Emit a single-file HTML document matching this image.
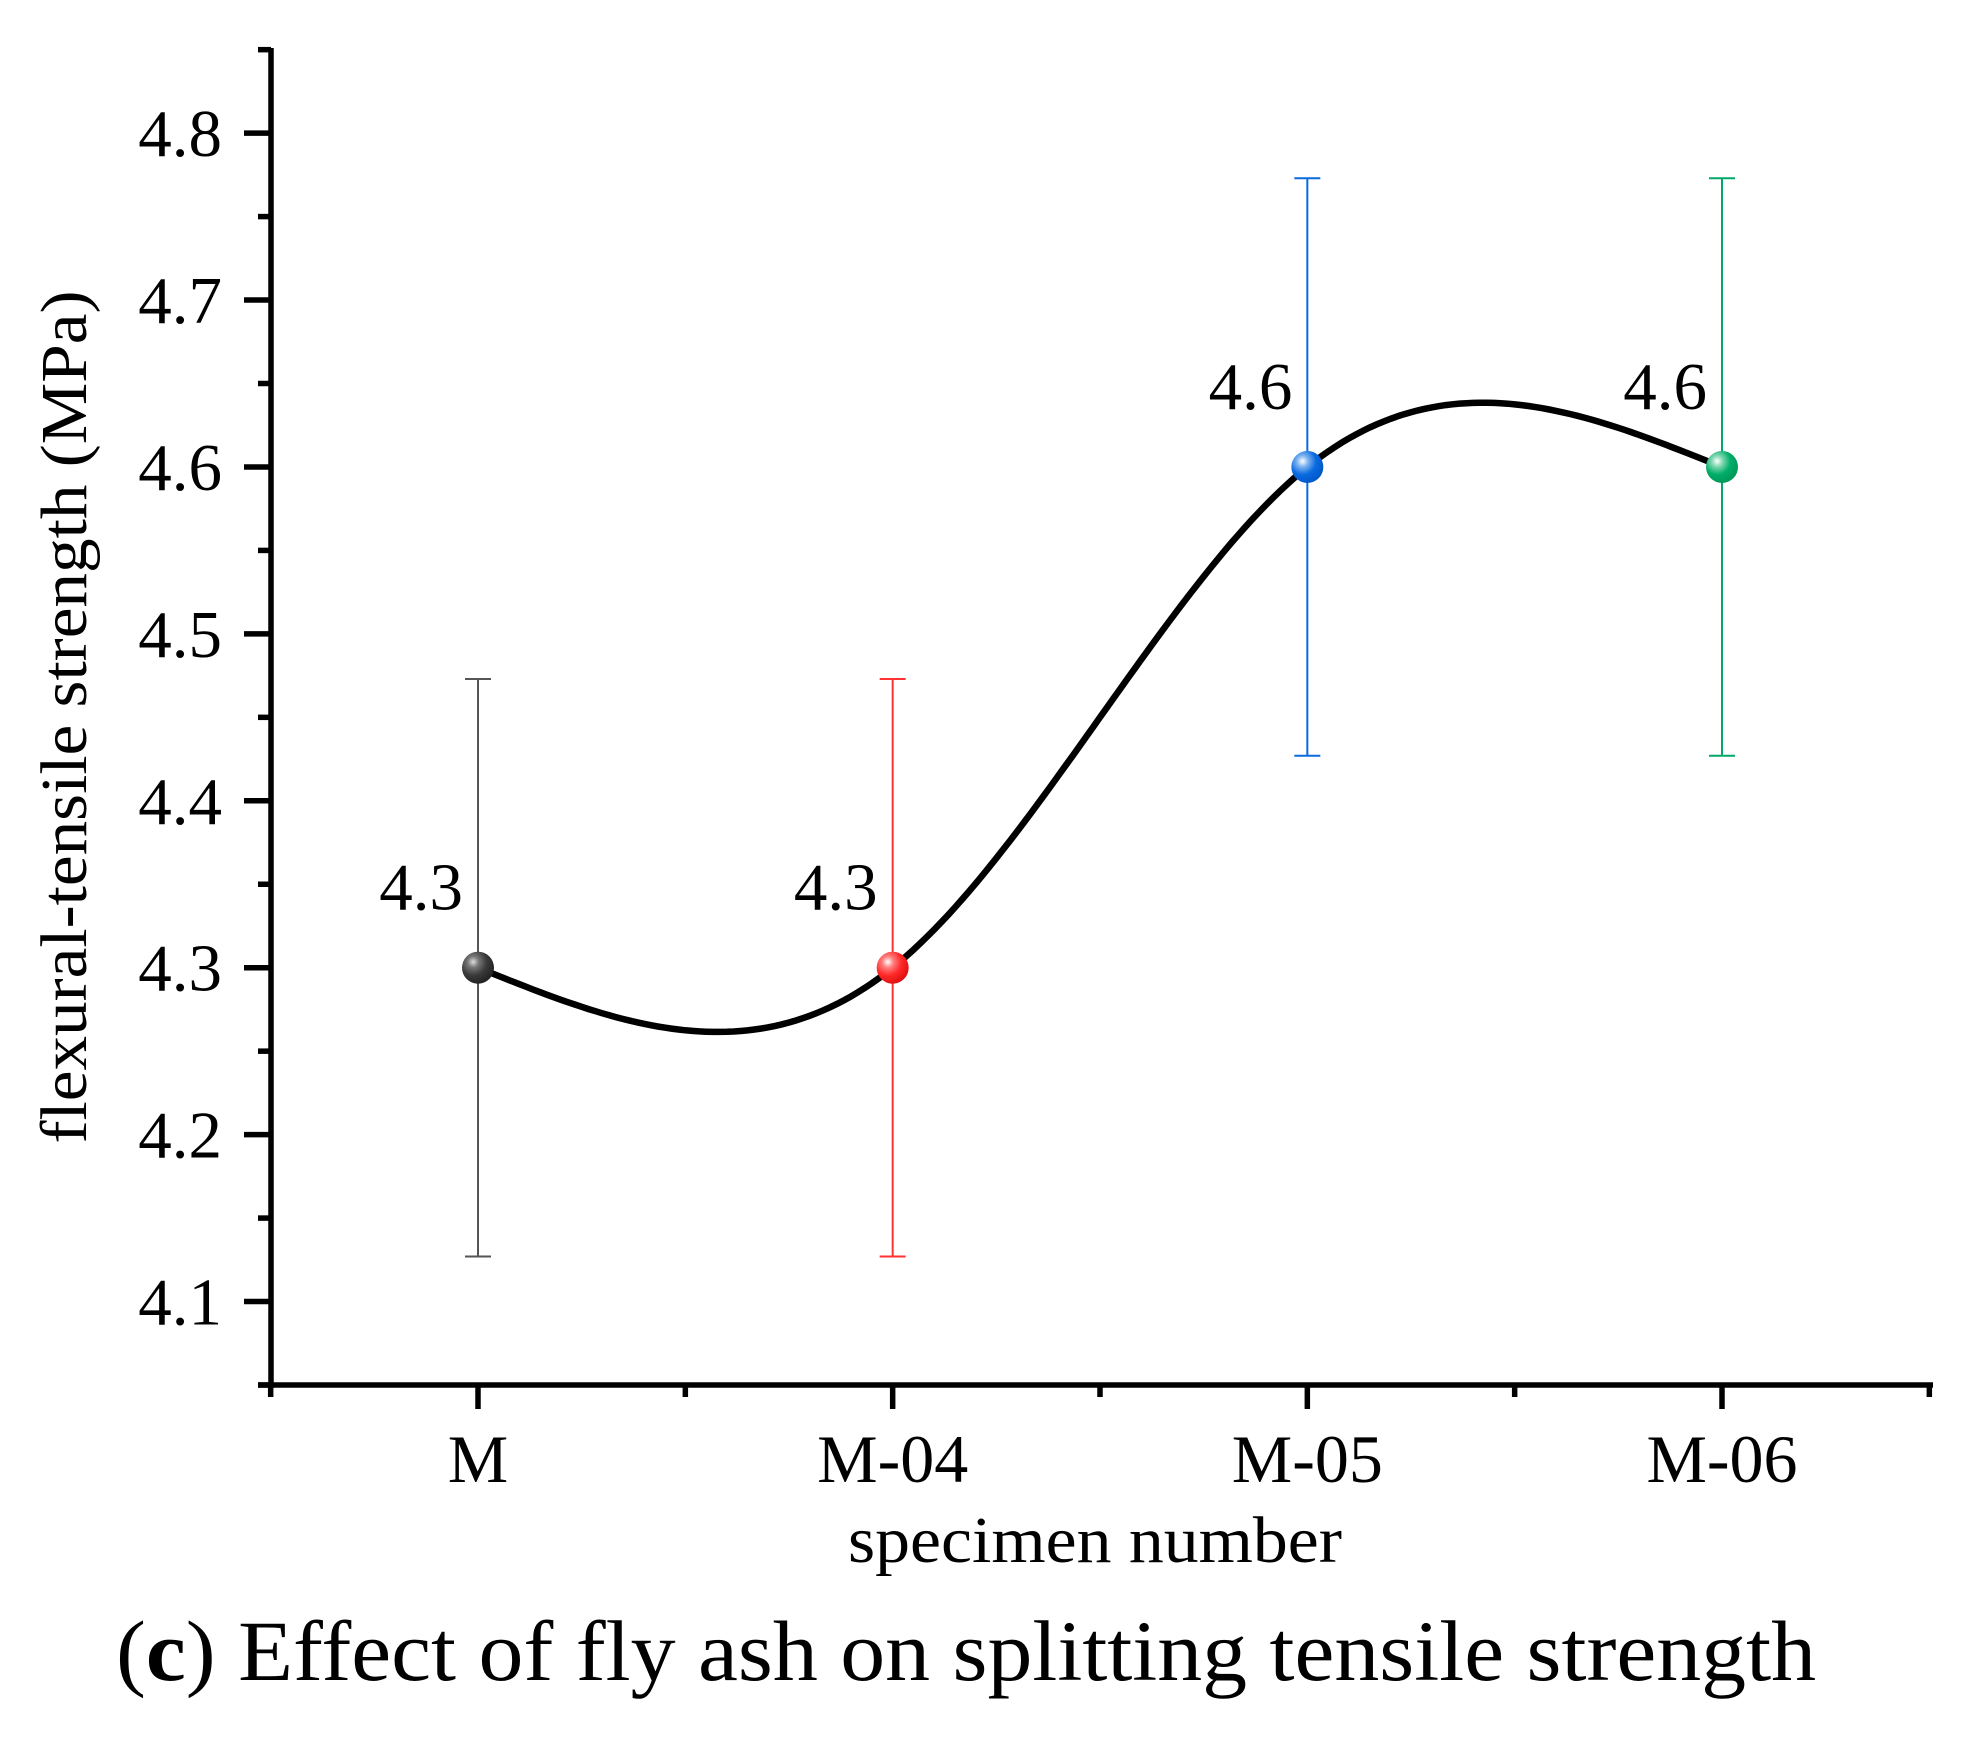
<!DOCTYPE html>
<html><head><meta charset="utf-8"><style>
html,body{margin:0;padding:0;background:#fff;}
svg{display:block;font-family:"Liberation Serif",serif;}
</style></head><body>
<svg id="chart" width="1965" height="1741" viewBox="0 0 1965 1741" xmlns="http://www.w3.org/2000/svg">
<defs>
<radialGradient id="gM" cx="35%" cy="32%" r="70%"><stop offset="0" stop-color="#ddd"/><stop offset="0.25" stop-color="#777"/><stop offset="0.6" stop-color="#3a3a3a"/><stop offset="1" stop-color="#222"/></radialGradient>
<radialGradient id="gR" cx="35%" cy="32%" r="70%"><stop offset="0" stop-color="#fff"/><stop offset="0.25" stop-color="#ff8080"/><stop offset="0.6" stop-color="#ff2a2a"/><stop offset="1" stop-color="#e01010"/></radialGradient>
<radialGradient id="gB" cx="35%" cy="32%" r="70%"><stop offset="0" stop-color="#fff"/><stop offset="0.25" stop-color="#7fb4f0"/><stop offset="0.6" stop-color="#0a6ae0"/><stop offset="1" stop-color="#0058c8"/></radialGradient>
<radialGradient id="gG" cx="35%" cy="32%" r="70%"><stop offset="0" stop-color="#fff"/><stop offset="0.25" stop-color="#7fd8b0"/><stop offset="0.6" stop-color="#00ad68"/><stop offset="1" stop-color="#009858"/></radialGradient>
</defs>
<g id="plot"></g>
<text transform="translate(86,717) rotate(-90)" text-anchor="middle" font-size="58" textLength="853" lengthAdjust="spacingAndGlyphs" style="font-size:66px">flexural-tensile strength (MPa)</text>
<text x="1095" y="1562" text-anchor="middle" font-size="66" textLength="494" lengthAdjust="spacingAndGlyphs">specimen number</text>
<text x="116" y="1680" font-size="86" textLength="1700" lengthAdjust="spacingAndGlyphs">(<tspan font-weight="bold">c</tspan>) Effect of fly ash on splitting tensile strength</text>
</svg>
<script>
const categories = ["M", "M-04", "M-05", "M-06"];
const values = [4.3, 4.3, 4.6, 4.6];
const errors = [0.173, 0.173, 0.173, 0.173];
const valueLabels = ["4.3", "4.3", "4.6", "4.6"];
const yTicks = [4.1, 4.2, 4.3, 4.4, 4.5, 4.6, 4.7, 4.8];
const yTickLabels = ["4.1", "4.2", "4.3", "4.4", "4.5", "4.6", "4.7", "4.8"];
const barColors = ["#555555", "#ff3333", "#0a6ae0", "#00a868"];
const markerFills = ["url(#gM)", "url(#gR)", "url(#gB)", "url(#gG)"];

const NS = "http://www.w3.org/2000/svg";
const g = document.getElementById("plot");
const X0 = 271, X1 = 1930, YB = 1385, YT = 48;
const yMin = 4.05, yMax = 4.851;
function ys(v){ return YB - (v - yMin) / (yMax - yMin) * (YB - YT); }
function xs(i){ return 478 + i * (1722 - 478) / (categories.length - 1); }
function mk(tag, attrs){ const e = document.createElementNS(NS, tag); for (const k in attrs) e.setAttribute(k, attrs[k]); g.appendChild(e); return e; }

let e = mk("line", {x1: X0, y1: YT, x2: X0, y2: YB + 3, stroke: "#000", "stroke-width": 5.5});


e = mk("line", {x1: X0 - 13, y1: YB, x2: X1 + 3, y2: YB, stroke: "#000", "stroke-width": 5.5});



const step = yTicks[1] - yTicks[0];
for (let i = 0; i < yTicks.length; i++) {
  const y = ys(yTicks[i]);
  e = mk("line", {x1: X0 - 27, y1: y, x2: X0, y2: y, stroke: "#000", "stroke-width": 5.5});
  
  
  const t = mk("text", {x: 222, y: y + 23, "text-anchor": "end", "font-size": 67});
  t.textContent = yTickLabels[i];
  
  
}
for (let i = 0; i <= yTicks.length; i++) {
  const v = yTicks[0] - step / 2 + i * step;
  const y = ys(v);
  if (y < YT - 1) continue;
  e = mk("line", {x1: X0 - 13, y1: y, x2: X0, y2: y, stroke: "#000", "stroke-width": 5.5});
  
  
}
for (let i = 0; i < categories.length; i++) {
  const x = xs(i);
  e = mk("line", {x1: x, y1: YB, x2: x, y2: YB + 24, stroke: "#000", "stroke-width": 5.5});
  
  
  const t = mk("text", {x: x, y: 1482, "text-anchor": "middle", "font-size": 68});
  t.textContent = categories[i];
  
  
}
for (let i = -1; i < categories.length; i++) {
  const x = (xs(i) + xs(i + 1)) / 2;
  e = mk("line", {x1: x, y1: YB, x2: x, y2: YB + 12, stroke: "#000", "stroke-width": 5.5});
  
  
}

// natural cubic spline
const n = values.length;
const px = values.map((v, i) => xs(i)), py = values.map(v => ys(v));
const h = [], al = [0], l = [1], mu = [0], z = [0], c = new Array(n).fill(0), b = [], d = [];
for (let i = 0; i < n - 1; i++) h.push(px[i + 1] - px[i]);
for (let i = 1; i < n - 1; i++) al.push(3 / h[i] * (py[i + 1] - py[i]) - 3 / h[i - 1] * (py[i] - py[i - 1]));
for (let i = 1; i < n - 1; i++) { l[i] = 2 * (px[i + 1] - px[i - 1]) - h[i - 1] * mu[i - 1]; mu[i] = h[i] / l[i]; z[i] = (al[i] - h[i - 1] * z[i - 1]) / l[i]; }
for (let j = n - 2; j >= 0; j--) { c[j] = (z[j] || 0) - (mu[j] || 0) * c[j + 1]; b[j] = (py[j + 1] - py[j]) / h[j] - h[j] * (c[j + 1] + 2 * c[j]) / 3; d[j] = (c[j + 1] - c[j]) / (3 * h[j]); }
let dstr = "";
for (let j = 0; j < n - 1; j++) for (let k = 0; k <= 60; k++) {
  const t = h[j] * k / 60; const y = py[j] + b[j] * t + c[j] * t * t + d[j] * t * t * t;
  dstr += (dstr ? "L" : "M") + (px[j] + t).toFixed(1) + "," + y.toFixed(1);
}

for (let i = 0; i < n; i++) {
  const x = xs(i), yt = ys(values[i] + errors[i]), yb = ys(values[i] - errors[i]);
  const eg = document.createElementNS(NS, "g"); g.appendChild(eg);
  
  
  [[x, yt, x, yb], [x - 13, yt, x + 13, yt], [x - 13, yb, x + 13, yb]].forEach(a => {
    const ln = document.createElementNS(NS, "line");
    ln.setAttribute("x1", a[0]); ln.setAttribute("y1", a[1]); ln.setAttribute("x2", a[2]); ln.setAttribute("y2", a[3]);
    ln.setAttribute("stroke", barColors[i]); ln.setAttribute("stroke-width", 2);
    eg.appendChild(ln);
  });
}
e = mk("path", {d: dstr, fill: "none", stroke: "#000", "stroke-width": 6.5});


for (let i = 0; i < n; i++) {
  const x = xs(i), y = ys(values[i]);
  e = mk("circle", {cx: x, cy: y, r: 16, fill: markerFills[i]});
  
  
  const t = mk("text", {x: x - 15, y: y - 58, "text-anchor": "end", "font-size": 67});
  t.textContent = valueLabels[i];
  
  
}
</script>
</body></html>
